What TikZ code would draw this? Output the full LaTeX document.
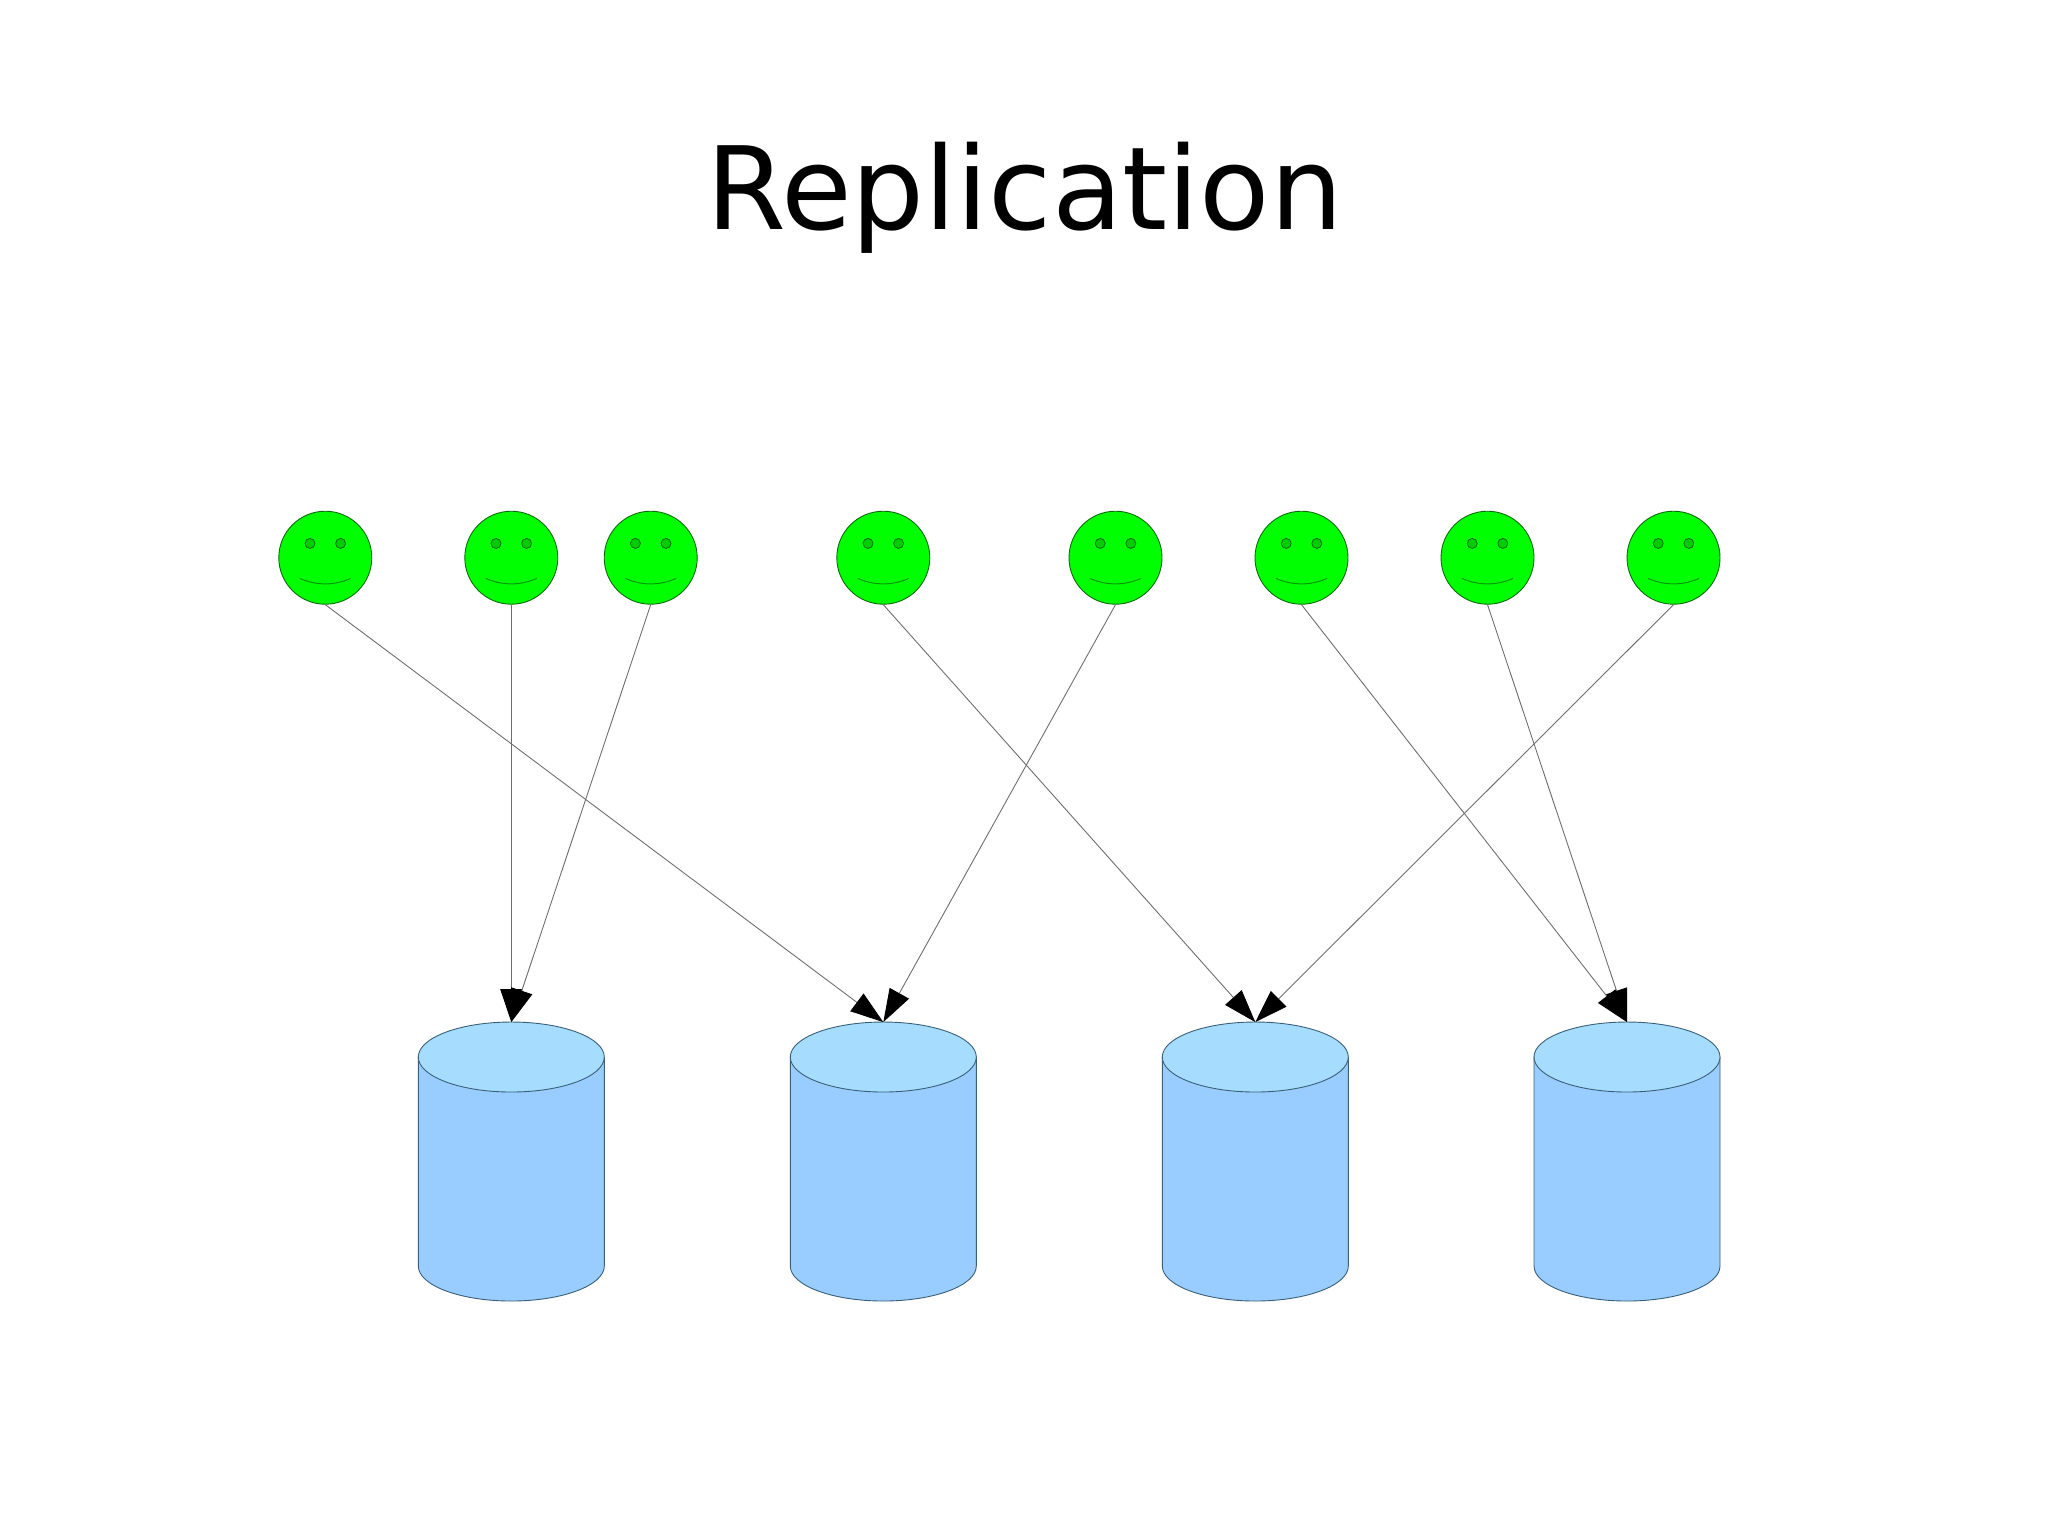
\documentclass[tikz,border=0pt]{standalone}
\usepackage{fontspec}
\setmainfont{DejaVu Sans}
\usetikzlibrary{arrows.meta}
\definecolor{body}{HTML}{99CCFF}
\definecolor{lid}{HTML}{A6DDFF}
\definecolor{edgeblue}{HTML}{3A6078}
\definecolor{face}{HTML}{00FF00}
\definecolor{eye}{HTML}{00CC00}
\definecolor{faceline}{HTML}{0C6A0C}
\definecolor{wire}{HTML}{6E6E6E}
\tikzset{
  x=0.5pt,y=-0.5pt,
  smiley/.style={circle,draw=faceline,fill=face,line width=0.45pt,minimum size=46.5pt,inner sep=0pt},
  eyeball/.style={draw=faceline,fill=eye,line width=0.4pt},
  smileline/.style={draw=eye!75!black,line width=0.5pt},
  drum/.style={draw=edgeblue,line width=0.45pt},
  drumbox/.style={minimum width=93pt,minimum height=139.4pt,inner sep=0pt,outer sep=0pt},
  wirearrow/.style={draw=wire,line width=0.45pt,-{Triangle[length=16.5pt,width=11pt,color=black]}},
}
\newcommand{\smileyat}[3]{%
  \node[smiley] (#1) at (#2,#3) {};
  \path[eyeball] (#2-15.3,#3-14.3) circle[radius=5];
  \path[eyeball] (#2+15.3,#3-14.3) circle[radius=5];
  \path[smileline] (#2-25.5,#3+20.7) .. controls (#2-9,#3+28) and (#2+9,#3+28) .. (#2+25.5,#3+20.7);
}
\newcommand{\drumat}[2]{%
  \node[drumbox] (#1) at (#2,1161.5) {};
  \path[drum,fill=body] (#2-93,1057) -- (#2-93,1266) arc[start angle=180,end angle=0,x radius=93,y radius=35] -- (#2+93,1057) -- cycle;
  \path[drum,fill=lid] (#2,1057) ellipse[x radius=93,y radius=35];
}
\begin{document}
\begin{tikzpicture}
\useasboundingbox (0,0) rectangle (2048,1539);
\node[font=\fontsize{57.5}{69}\selectfont,anchor=base,inner sep=0pt] (title) at (1024.5,229.5) {Replication};
\smileyat{s1}{325.3}{557.7}
\smileyat{s2}{511.3}{557.7}
\smileyat{s3}{650.7}{557.7}
\smileyat{s4}{883.3}{557.7}
\smileyat{s5}{1115.5}{557.7}
\smileyat{s6}{1301.5}{557.7}
\smileyat{s7}{1487.5}{557.7}
\smileyat{s8}{1673.5}{557.7}
\drumat{c1}{511.3}
\drumat{c2}{883.3}
\drumat{c3}{1255.3}
\drumat{c4}{1627}
\draw[wirearrow] (s1.south) -- (c2.north);
\draw[wirearrow] (s2.south) -- (c1.north);
\draw[wirearrow] (s3.south) -- (c1.north);
\draw[wirearrow] (s4.south) -- (c3.north);
\draw[wirearrow] (s5.south) -- (c2.north);
\draw[wirearrow] (s6.south) -- (c4.north);
\draw[wirearrow] (s7.south) -- (c4.north);
\draw[wirearrow] (s8.south) -- (c3.north);
\end{tikzpicture}
\end{document}
